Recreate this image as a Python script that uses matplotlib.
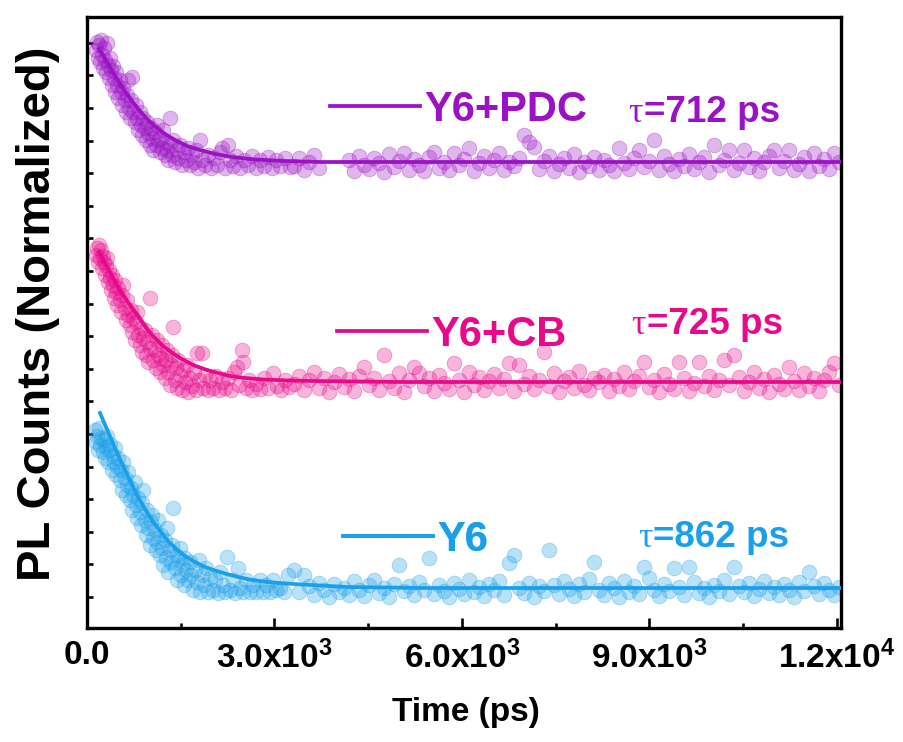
import matplotlib
matplotlib.use("Agg")
import matplotlib.pyplot as plt
from matplotlib.lines import Line2D
from matplotlib.colors import to_rgba
from matplotlib.ticker import FixedLocator

plt.rcParams['font.family'] = ['Liberation Sans', 'DejaVu Sans']
plt.rcParams['font.weight'] = 'bold'
plt.rcParams['mathtext.fontset'] = 'custom'
plt.rcParams['mathtext.rm'] = 'Liberation Sans:bold'
plt.rcParams['mathtext.bf'] = 'Liberation Sans:bold'
plt.rcParams['mathtext.it'] = 'Liberation Sans:bold:italic'
plt.rcParams['mathtext.default'] = 'bf'

# ---------------- data (time in ps, PL counts in arbitrary stacked units) -------------
NAMES = ['Y6+PDC', 'Y6+CB', 'Y6']
COLORS = ['#9b12c4', '#e8098a', '#1a9fea']
TAUS = [712, 725, 862]

XTICKS = [0, 3000, 6000, 9000, 12000]
XTICK_LABELS = ['0.0', '3.0x10$^{3}$', '6.0x10$^{3}$', '9.0x10$^{3}$', '1.2x10$^{4}$']
XMINOR = [1500, 4500, 7500, 10500]

PURPLE_DECAY = [(144,578),(160,586),(176,570),(192,583),(208,566),(224,588),(240,573),(256,560),(272,580),(288,568),
    (304,556),(320,585),(336,563),(352,550),(368,570),(384,558),(400,543),(416,562),(432,550),(448,536),
    (464,556),(480,543),(496,530),(528,548),(544,536),(560,523),(576,540),(608,528),(624,516),(640,533),
    (656,548),(672,520),(688,510),(704,528),(720,551),(736,516),(768,506),(784,523),(800,510),(816,498),
    (848,516),(864,503),(880,493),(896,510),(928,500),(944,488),(960,506),(976,495),(1008,483),(1024,500),
    (1040,490),(1056,478),(1088,496),(1104,483),(1120,503),(1136,488),(1168,476),(1184,490),(1200,480),(1216,498),
    (1248,473),(1264,486),(1280,478),(1296,468),(1328,510),(1328,483),(1360,473),(1376,488),(1408,466),(1440,478),
    (1456,470),(1488,483),(1520,463),(1552,476),(1584,468),(1616,480),(1648,463),(1680,473),(1712,466),(1744,478),
    (1776,460),(1808,488),(1840,468),(1888,463),(1936,473),(1984,460),(2032,470),(2080,463),(2128,476),(2160,480),
    (2208,460),(2256,483),(2288,468),(2336,462),(2384,472),(2448,460),(2512,468),(2576,463),(2640,472),(2704,460),
    (2768,468),(2832,462),(2896,471),(2960,460),(3024,468),(3088,462),(3168,470),(3248,461)]

PINK_DECAY = [(144,373),(160,380),(176,366),(192,383),(208,370),(224,378),(240,360),(256,372),(272,366),(288,353),
    (304,363),(320,370),(336,346),(352,358),(368,350),(384,338),(400,353),(416,343),(432,330),(448,348),
    (464,336),(480,323),(496,340),(528,328),(544,316),(560,333),(576,343),(608,320),(624,308),(640,328),
    (656,313),(688,303),(704,318),(720,296),(736,310),(768,288),(784,306),(800,316),(816,293),(848,283),
    (864,300),(880,276),(896,290),(928,298),(944,273),(960,286),(976,266),(1008,330),(1008,280),(1040,293),
    (1056,268),(1088,278),(1104,260),(1120,288),(1136,273),(1168,256),(1184,270),(1200,283),(1216,263),(1248,250),
    (1264,268),(1280,278),(1296,256),(1328,243),(1344,263),(1360,273),(1376,301),(1408,248),(1424,260),(1440,240),
    (1456,268),(1488,253),(1520,238),(1536,258),(1568,246),(1600,263),(1616,236),(1648,250),(1680,242),(1712,256),
    (1744,238),(1760,275),(1792,248),(1840,275),(1856,240),(1888,253),(1936,238),(1968,248),(2016,240),(2064,252),
    (2112,238),(2160,246),(2208,240),(2256,250),(2304,238),(2352,256),(2400,261),(2432,243),(2480,278),(2496,266),
    (2544,240),(2592,248),(2640,238),(2704,244),(2768,239),(2832,250),(2896,240),(2976,255),(3040,242),(3104,238),
    (3168,248),(3232,241)]

BLUE_DECAY = [(128,198),(144,186),(160,192),(176,178),(192,200),(208,183),(224,190),(256,176),(272,188),(288,170),
    (304,181),(320,192),(336,166),(352,178),(368,184),(400,158),(416,173),(432,166),(448,180),(464,153),
    (480,162),(496,170),(528,148),(544,158),(560,138),(576,166),(608,150),(624,133),(640,143),(656,156),
    (688,128),(704,140),(720,118),(736,133),(768,146),(784,123),(800,110),(816,130),(848,116),(864,103),
    (880,125),(896,138),(928,108),(944,93),(960,118),(976,100),(1008,83),(1024,106),(1040,113),(1056,90),
    (1088,98),(1104,78),(1120,86),(1136,108),(1168,73),(1184,93),(1200,80),(1216,63),(1248,88),(1264,70),
    (1280,100),(1296,56),(1328,78),(1344,66),(1360,83),(1376,120),(1408,60),(1424,73),(1440,48),(1456,68),
    (1488,80),(1504,53),(1520,63),(1552,43),(1568,70),(1584,58),(1616,48),(1648,66),(1664,53),(1696,38),
    (1728,58),(1760,46),(1792,68),(1808,36),(1840,53),(1872,43),(1904,60),(1936,36),(1968,50),(2016,38),
    (2048,48),(2096,35),(2128,56),(2176,43),(2208,36),(2240,71),(2288,38),(2336,48),(2368,35),(2416,60),
    (2448,40),(2496,36),(2544,48),(2608,36),(2656,43),(2704,36),(2768,48),(2816,36),(2864,43),(2928,36),
    (2976,48),(3024,38),(3088,40),(3152,36),(3216,53)]

TAIL_T = [3320,3400,3480,3560,3640,3720,3800,3880,3960,4040,
    4120,4200,4280,4360,4440,4520,4600,4680,4760,4840,
    4920,5000,5080,5160,5240,5320,5400,5480,5560,5640,
    5720,5800,5880,5960,6040,6120,6200,6280,6360,6440,
    6520,6600,6680,6760,6840,6920,7000,7080,7160,7240,
    7320,7400,7480,7560,7640,7720,7800,7880,7960,8040,
    8120,8200,8280,8360,8440,8520,8600,8680,8760,8840,
    8920,9000,9080,9160,9240,9320,9400,9480,9560,9640,
    9720,9800,9880,9960,10040,10120,10200,10280,10360,10440,
    10520,10600,10680,10760,10840,10920,11000,11080,11160,11240,
    11320,11400,11480,11560,11640,11720,11800,11880,11960,12040]

NAN = float('nan')
PURPLE_TAIL = [462,470,458,466,473,460,NAN,NAN,NAN,NAN,
    NAN,468,457,472,463,459,470,465,456,474,
    461,467,475,458,469,463,457,471,476,460,
    466,458,475,463,469,480,457,465,472,460,
    468,475,458,466,462,470,493,486,481,459,
    467,472,457,464,470,460,474,456,466,462,
    471,458,468,463,457,480,465,459,470,478,
    461,467,488,458,472,464,457,469,462,474,
    459,466,471,456,483,463,468,478,458,465,
    478,461,470,457,466,472,478,460,467,478,
    458,464,471,457,475,462,469,459,475,466]

PINK_TAIL = [244,252,238,248,256,240,250,236,246,254,
    241,249,237,252,261,243,250,238,273,247,
    240,255,236,248,261,255,242,250,237,253,
    245,239,265,248,236,256,243,251,238,247,
    254,240,249,265,237,263,244,252,239,248,
    276,242,255,236,247,251,240,257,243,238,
    250,246,253,237,249,242,256,239,247,252,
    266,241,248,236,254,244,239,266,250,237,
    245,266,242,252,238,248,268,243,273,251,
    237,246,256,240,249,236,253,244,239,261,
    247,238,255,242,250,237,248,256,265,243]

BLUE_TAIL = [58,36,53,42,33,45,38,31,44,36,
    40,33,47,38,32,43,48,35,40,31,
    44,63,37,42,33,46,38,70,34,43,
    37,31,45,39,34,48,36,41,32,44,
    38,47,33,65,73,40,35,45,31,42,
    37,78,43,34,47,39,32,44,36,49,
    66,38,33,45,40,31,47,36,42,34,
    61,50,38,32,44,37,60,41,33,61,
    46,35,40,31,43,37,48,34,61,42,
    36,45,32,39,47,35,41,33,44,38,
    31,46,37,56,42,34,45,38,33,41]

# fitted mono-exponential curves
PURPLE_FIT = [(192,579),(320,566),(432,554),(560,541),(704,528),(848,517),(976,508),(1120,500),(1248,494),
    (1408,488),(1600,482),(1808,478),(2048,474),(2320,471),(2688,468.5),(3168,467),(3728,466),(12048,466)]
PINK_FIT = [(192,376),(304,363),(416,350),(544,336),(688,323),(816,312),(960,299),(1088,290),(1216,282),
    (1344,276),(1488,270),(1696,263),(1920,258),(2096,255),(2288,252),(2528,250),(2816,248.5),(3248,247.5),
    (3616,247),(5008,246),(12048,246)]
BLUE_FIT = [(208,215),(304,201),(400,187),(496,173),(608,158),(704,145),(816,131),(928,119),(1040,108),
    (1168,97),(1296,87),(1424,79),(1568,72),(1728,66),(1888,61),(2048,57.5),(2208,54.5),(2416,51),
    (2640,48),(2896,46),(3168,44.5),(3728,42.5),(4160,41),(5328,40),(12048,40)]

DECAYS = [PURPLE_DECAY, PINK_DECAY, BLUE_DECAY]
TAILS = [PURPLE_TAIL, PINK_TAIL, BLUE_TAIL]
FITS = [PURPLE_FIT, PINK_FIT, BLUE_FIT]

# ---------------- figure -------------
fig = plt.figure(figsize=(9.04, 7.42), dpi=100)
ax = fig.add_axes([87/904, 114/742, 754/904, 611/742])

for decay, tail, fit, color in zip(DECAYS, TAILS, FITS, COLORS):
    t = [p[0] for p in decay] + list(TAIL_T)
    y = [p[1] for p in decay] + list(tail)
    ax.scatter(t, y, s=112, facecolor=to_rgba(color, 0.30), edgecolor=to_rgba(color, 0.36),
               linewidth=0.6, zorder=2)
    ax.plot([p[0] for p in fit], [p[1] for p in fit], color=color, lw=2.7, zorder=3,
            solid_joinstyle='round')

ax.set_xlim(0, 12064)
ax.set_ylim(0, 611)

ax.xaxis.set_major_locator(FixedLocator(XTICKS))
ax.set_xticklabels(XTICK_LABELS)
ax.xaxis.set_minor_locator(FixedLocator(XMINOR))
ax.yaxis.set_major_locator(FixedLocator([31.0 + 32.6 * k for k in range(18)]))

ax.tick_params(axis='x', which='major', direction='in', length=7, width=1.9,
               labelsize=24, pad=9, top=False)
ax.tick_params(axis='x', which='minor', direction='in', length=3.5, width=1.9, top=False)
ax.tick_params(axis='y', which='major', direction='in', length=4.5, width=1.9,
               labelleft=False, right=False)
for sp in ax.spines.values():
    sp.set_linewidth(2.4)

ax.set_xlabel('Time (ps)', fontsize=24, fontweight='bold')
ax.xaxis.set_label_coords(0.503, -0.113)
ax.set_ylabel('PL Counts (Normalized)', fontsize=34, fontweight='bold')
ax.yaxis.set_label_coords(-0.036, 0.515)

# per-curve legends
LEG_POS = [(0.322, 0.848), (0.332, 0.4795), (0.3395, 0.144)]
for name, color, pos in zip(NAMES, COLORS, LEG_POS):
    h = Line2D([], [], color=color, lw=2.7)
    leg = ax.legend([h], [name], loc='center left', bbox_to_anchor=pos,
                    bbox_transform=ax.transAxes, frameon=False,
                    prop={'weight': 'bold', 'size': 30}, handlelength=2.16,
                    handletextpad=0.1, borderpad=0, borderaxespad=0, labelcolor=color)
    ax.add_artist(leg)

# lifetime labels
TAU_POS = [(0.718, 0.842), (0.722, 0.495), (0.731, 0.146)]
for tau, color, pos in zip(TAUS, COLORS, TAU_POS):
    t1 = ax.text(pos[0], pos[1], '\u03c4', transform=ax.transAxes, fontsize=26,
                 family=['Liberation Serif', 'DejaVu Serif'], fontweight='normal',
                 color=color, va='center', ha='left')
    ax.annotate(f'={tau} ps', xy=(1, 0), xycoords=t1, xytext=(0.5, 0),
                textcoords='offset points', va='bottom', ha='left', fontsize=26.5,
                fontweight='bold', color=color)

fig.savefig('out.png', dpi=100)
